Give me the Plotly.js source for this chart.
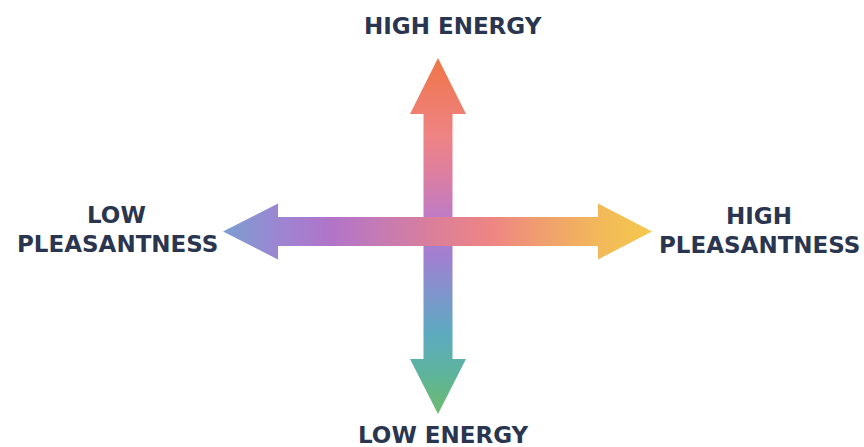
<!DOCTYPE html>
<html>
<head>
<meta charset="utf-8">
<script src="https://cdn.plot.ly/plotly-3.0.1.min.js"></script>
<style>html,body{margin:0;padding:0;background:#fff;}#chart{width:864px;height:447px;}</style>
</head>
<body>
<div id="chart"></div>
<script>
// Axis labels of the two-dimensional mood map
const labelTexts = ["HIGH ENERGY", "LOW ENERGY", "LOW", "PLEASANTNESS", "HIGH", "PLEASANTNESS"];
const labelX = [453, 443, 116, 117, 759, 759];
const labelY = [26, 435, 215, 244, 216, 245];

// Gradient colour stops (start -> end of each arrow)
const pleasantStops = ["#7B9FD0", "#9B86D2", "#B174C9", "#C77BB2", "#DC7F98", "#EE8584", "#F0A06E", "#F2B85A", "#F5C84C"];
const energyStops = ["#EE7646", "#EF7C66", "#EE8385", "#DB7EA2", "#BE7BC4", "#A17FD0", "#7E96CC", "#5CABBF", "#5DB49B", "#6FBA6E"];

// Arrow geometry (canvas units)
const cx = 438, cy = 231.5;
const shaftHalf = 14.5, headHalf = 28;
const hLeftTip = 223, hLeftBase = 278, hRightBase = 598, hRightTip = 652;
const vTopTip = 58, vTopBase = 114, vBotBase = 359, vBotTip = 414;

function scale(stops){ return stops.map((c,i)=>[i/(stops.length-1), c]); }

const hx = [hLeftTip, hLeftBase, hLeftBase, hRightBase, hRightBase, hRightTip, hRightBase, hRightBase, hLeftBase, hLeftBase, hLeftTip];
const hy = [cy, cy-headHalf, cy-shaftHalf, cy-shaftHalf, cy-headHalf, cy, cy+headHalf, cy+shaftHalf, cy+shaftHalf, cy+headHalf, cy];
const vx = [cx, cx+headHalf, cx+shaftHalf, cx+shaftHalf, cx+headHalf, cx, cx-headHalf, cx-shaftHalf, cx-shaftHalf, cx-headHalf, cx];
const vy = [vTopTip, vTopBase, vTopBase, vBotBase, vBotBase, vBotTip, vBotBase, vBotBase, vTopBase, vTopBase, vTopTip];

const traces = [
  {type:'scatter', x:vx, y:vy, mode:'lines', fill:'toself', line:{width:0, color:'rgba(0,0,0,0)'},
   fillgradient:{type:'vertical', start:vTopTip, stop:vBotTip, colorscale:scale(energyStops)}, hoverinfo:'skip', showlegend:false},
  {type:'scatter', x:hx, y:hy, mode:'lines', fill:'toself', line:{width:0, color:'rgba(0,0,0,0)'},
   fillgradient:{type:'horizontal', start:hLeftTip, stop:hRightTip, colorscale:scale(pleasantStops)}, hoverinfo:'skip', showlegend:false}
];

const annotations = labelTexts.map((t,i)=>({
  x: labelX[i], y: labelY[i], xref:'x', yref:'y', text:t, showarrow:false,
  xanchor:'center', yanchor:'middle',
  font:{family:'DejaVu Sans, Verdana, sans-serif', size:23, color:'#2A3550', weight:700}
}));

const layout = {
  width:864, height:447, margin:{l:0,r:0,t:0,b:0},
  paper_bgcolor:'#ffffff', plot_bgcolor:'#ffffff',
  xaxis:{range:[0,864], visible:false, fixedrange:true},
  yaxis:{range:[447,0], visible:false, fixedrange:true},
  annotations: annotations, showlegend:false
};
Plotly.newPlot('chart', traces, layout, {displayModeBar:false, staticPlot:true});
</script>
</body>
</html>
